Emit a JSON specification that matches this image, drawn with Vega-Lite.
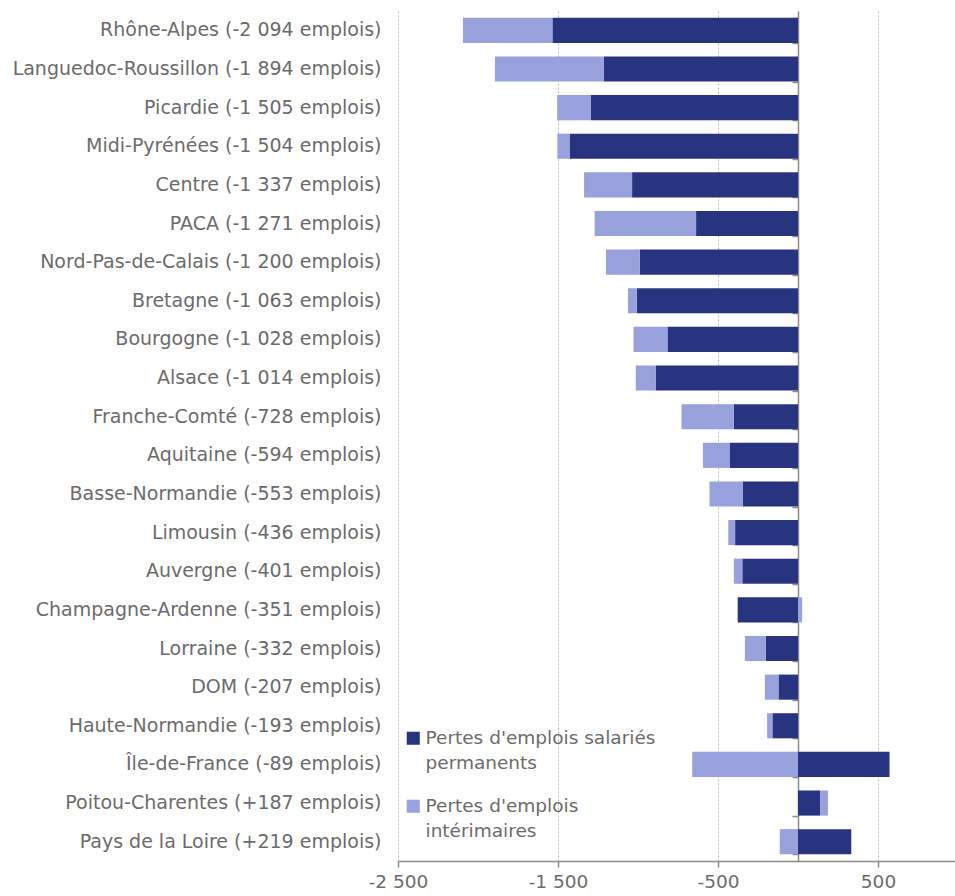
{
  "$schema": "https://vega.github.io/schema/vega-lite/v6.json",
  "autosize": "none",
  "width": 560,
  "height": 850,
  "padding": {"left": 398, "top": 11, "right": 0, "bottom": 35},
  "background": "white",
  "config": {
    "view": {"stroke": null},
    "font": "DejaVu Sans",
    "style": {"guide-label": {"lineHeight": 25}}
  },
  "data": {
    "values": [
      {"r": "Rhône-Alpes (-2 094 emplois)", "s": "Pertes d'emplois salariés permanents", "v": -1535},
      {"r": "Rhône-Alpes (-2 094 emplois)", "s": "Pertes d'emplois intérimaires", "v": -559},
      {"r": "Languedoc-Roussillon (-1 894 emplois)", "s": "Pertes d'emplois salariés permanents", "v": -1215},
      {"r": "Languedoc-Roussillon (-1 894 emplois)", "s": "Pertes d'emplois intérimaires", "v": -679},
      {"r": "Picardie (-1 505 emplois)", "s": "Pertes d'emplois salariés permanents", "v": -1294},
      {"r": "Picardie (-1 505 emplois)", "s": "Pertes d'emplois intérimaires", "v": -211},
      {"r": "Midi-Pyrénées (-1 504 emplois)", "s": "Pertes d'emplois salariés permanents", "v": -1428},
      {"r": "Midi-Pyrénées (-1 504 emplois)", "s": "Pertes d'emplois intérimaires", "v": -76},
      {"r": "Centre (-1 337 emplois)", "s": "Pertes d'emplois salariés permanents", "v": -1037},
      {"r": "Centre (-1 337 emplois)", "s": "Pertes d'emplois intérimaires", "v": -300},
      {"r": "PACA (-1 271 emplois)", "s": "Pertes d'emplois salariés permanents", "v": -637},
      {"r": "PACA (-1 271 emplois)", "s": "Pertes d'emplois intérimaires", "v": -634},
      {"r": "Nord-Pas-de-Calais (-1 200 emplois)", "s": "Pertes d'emplois salariés permanents", "v": -989},
      {"r": "Nord-Pas-de-Calais (-1 200 emplois)", "s": "Pertes d'emplois intérimaires", "v": -211},
      {"r": "Bretagne (-1 063 emplois)", "s": "Pertes d'emplois salariés permanents", "v": -1007},
      {"r": "Bretagne (-1 063 emplois)", "s": "Pertes d'emplois intérimaires", "v": -56},
      {"r": "Bourgogne (-1 028 emplois)", "s": "Pertes d'emplois salariés permanents", "v": -816},
      {"r": "Bourgogne (-1 028 emplois)", "s": "Pertes d'emplois intérimaires", "v": -212},
      {"r": "Alsace (-1 014 emplois)", "s": "Pertes d'emplois salariés permanents", "v": -890},
      {"r": "Alsace (-1 014 emplois)", "s": "Pertes d'emplois intérimaires", "v": -124},
      {"r": "Franche-Comté (-728 emplois)", "s": "Pertes d'emplois salariés permanents", "v": -402},
      {"r": "Franche-Comté (-728 emplois)", "s": "Pertes d'emplois intérimaires", "v": -326},
      {"r": "Aquitaine (-594 emplois)", "s": "Pertes d'emplois salariés permanents", "v": -428},
      {"r": "Aquitaine (-594 emplois)", "s": "Pertes d'emplois intérimaires", "v": -166},
      {"r": "Basse-Normandie (-553 emplois)", "s": "Pertes d'emplois salariés permanents", "v": -344},
      {"r": "Basse-Normandie (-553 emplois)", "s": "Pertes d'emplois intérimaires", "v": -209},
      {"r": "Limousin (-436 emplois)", "s": "Pertes d'emplois salariés permanents", "v": -393},
      {"r": "Limousin (-436 emplois)", "s": "Pertes d'emplois intérimaires", "v": -43},
      {"r": "Auvergne (-401 emplois)", "s": "Pertes d'emplois salariés permanents", "v": -348},
      {"r": "Auvergne (-401 emplois)", "s": "Pertes d'emplois intérimaires", "v": -53},
      {"r": "Champagne-Ardenne (-351 emplois)", "s": "Pertes d'emplois salariés permanents", "v": -377},
      {"r": "Champagne-Ardenne (-351 emplois)", "s": "Pertes d'emplois intérimaires", "v": 26},
      {"r": "Lorraine (-332 emplois)", "s": "Pertes d'emplois salariés permanents", "v": -201},
      {"r": "Lorraine (-332 emplois)", "s": "Pertes d'emplois intérimaires", "v": -131},
      {"r": "DOM (-207 emplois)", "s": "Pertes d'emplois salariés permanents", "v": -122},
      {"r": "DOM (-207 emplois)", "s": "Pertes d'emplois intérimaires", "v": -85},
      {"r": "Haute-Normandie (-193 emplois)", "s": "Pertes d'emplois salariés permanents", "v": -160},
      {"r": "Haute-Normandie (-193 emplois)", "s": "Pertes d'emplois intérimaires", "v": -33},
      {"r": "Île-de-France (-89 emplois)", "s": "Pertes d'emplois salariés permanents", "v": 572},
      {"r": "Île-de-France (-89 emplois)", "s": "Pertes d'emplois intérimaires", "v": -661},
      {"r": "Poitou-Charentes (+187 emplois)", "s": "Pertes d'emplois salariés permanents", "v": 140},
      {"r": "Poitou-Charentes (+187 emplois)", "s": "Pertes d'emplois intérimaires", "v": 47},
      {"r": "Pays de la Loire (+219 emplois)", "s": "Pertes d'emplois salariés permanents", "v": 333},
      {"r": "Pays de la Loire (+219 emplois)", "s": "Pertes d'emplois intérimaires", "v": -114}
    ]
  },
  "layer": [
    {
      "mark": {"type": "bar"},
      "encoding": {
        "y": {
          "field": "r", "type": "nominal", "sort": null, "title": null,
          "scale": {"paddingInner": 0.35, "paddingOuter": 0.175},
          "axis": {"orient": "left", "domain": false, "ticks": false, "labelPadding": 17, "labelFontSize": 19, "labelColor": "#6b6b6b", "labelLimit": 500}
        },
        "x": {
          "field": "v", "type": "quantitative", "stack": "zero", "title": null,
          "scale": {"domain": [-2500, 1000], "nice": false, "zero": false},
          "axis": {
            "values": [-2500, -1500, -500, 500],
            "labelExpr": "(datum.value < 0 ? '-' : '') + replace(format(abs(datum.value), ','), ',', ' ')",
            "grid": true, "gridDash": [2, 2], "gridColor": "#b5b5b5", "gridWidth": 1,
            "domainColor": "#8a8a8a", "domainWidth": 1.5, "tickColor": "#8a8a8a", "tickWidth": 1.5, "tickSize": 6,
            "labelFontSize": 18.5, "labelColor": "#6b6b6b", "labelPadding": 5, "labelFlush": false
          }
        },
        "color": {
          "field": "s", "type": "nominal",
          "scale": {"domain": ["Pertes d'emplois salariés permanents", "Pertes d'emplois intérimaires"], "range": ["#283480", "#98a1dc"]},
          "legend": {
            "title": null, "orient": "none", "legendX": 6, "legendY": 718,
            "symbolType": "square", "symbolSize": 170, "symbolStrokeWidth": 0,
            "labelFontSize": 18.5, "labelColor": "#6b6b6b", "labelOffset": 3, "rowPadding": 24, "labelLimit": 400,
            "labelExpr": "datum.label == \"Pertes d'emplois intérimaires\" ? [\"Pertes d'emplois\", \"intérimaires\"] : [\"Pertes d'emplois salariés\", \"permanents\"]"
          }
        },
        "order": {"field": "s", "sort": "descending"}
      }
    },
    {
      "mark": {"type": "rule", "opacity": 0},
      "encoding": {
        "y": {
          "field": "r", "type": "nominal", "sort": null, "title": null,
          "axis": {"orient": "right", "offset": -160, "labels": false, "domain": true, "domainColor": "#8a8a8a", "domainWidth": 1.5, "ticks": true, "tickBand": "extent", "tickSize": -6, "tickColor": "#8a8a8a", "tickWidth": 1.5}
        },
        "x": {"datum": 0}
      }
    }
  ],
  "resolve": {"axis": {"y": "independent"}}
}
